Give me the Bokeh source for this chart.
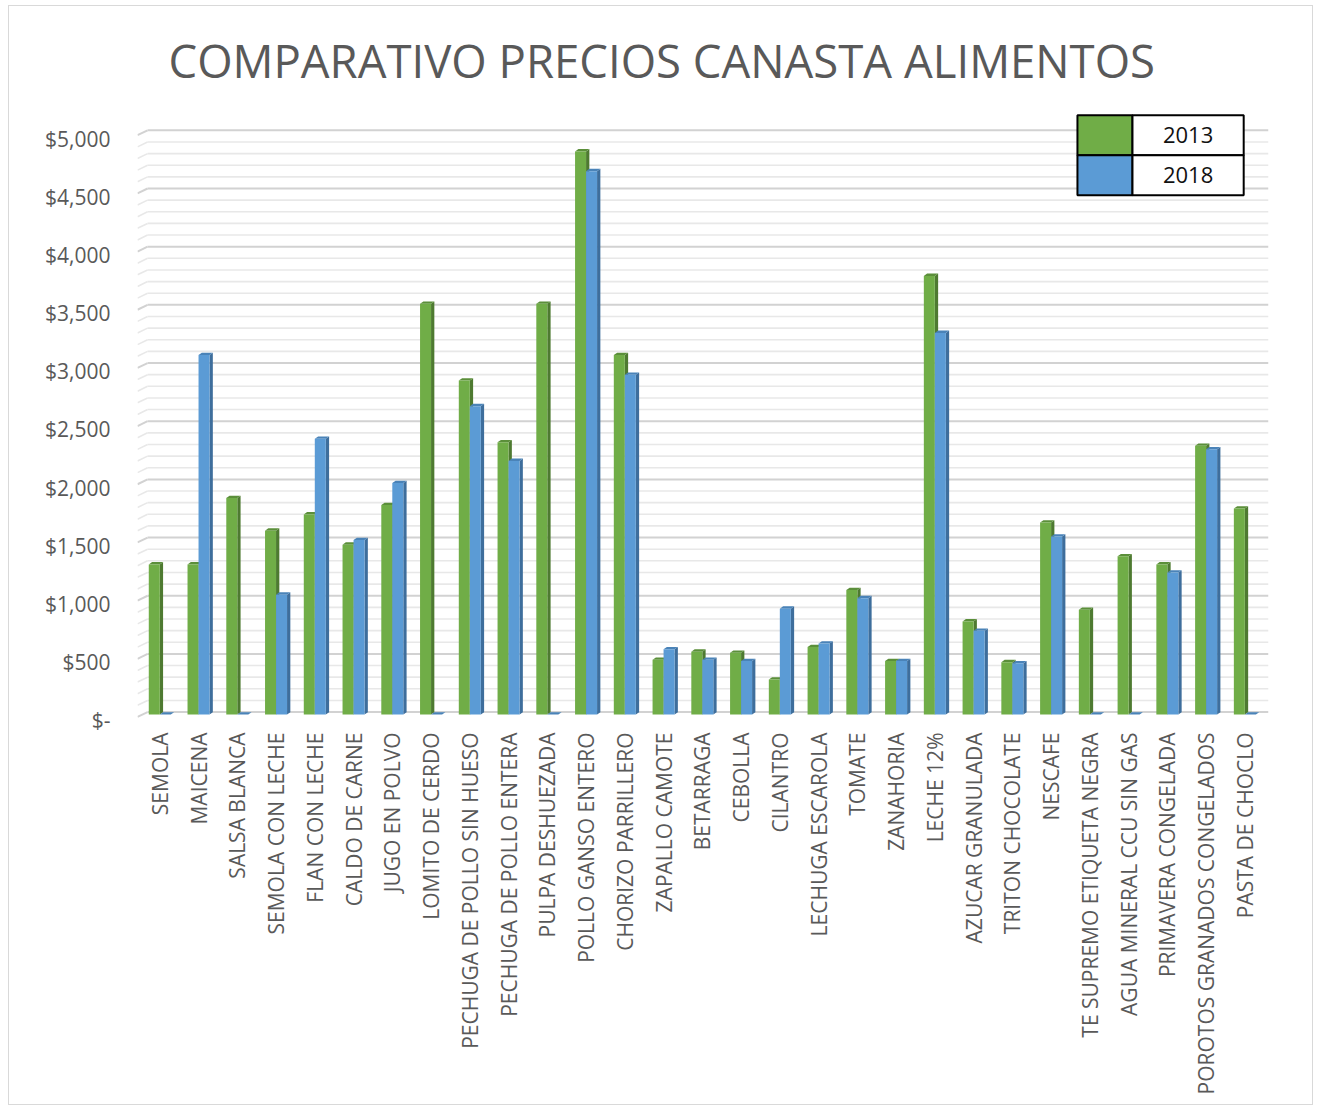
import math
from bokeh.plotting import figure
from bokeh.models import FixedTicker, Range1d
from bokeh.core.properties import value
from bokeh.embed import file_html
from bokeh.resources import INLINE

# ---------------- data ----------------
CATEGORIES = [
    "SEMOLA", "MAICENA", "SALSA BLANCA", "SEMOLA CON LECHE", "FLAN CON LECHE",
    "CALDO DE CARNE", "JUGO EN POLVO", "LOMITO DE CERDO", "PECHUGA DE POLLO SIN HUESO",
    "PECHUGA DE POLLO ENTERA", "PULPA DESHUEZADA", "POLLO GANSO ENTERO",
    "CHORIZO PARRILLERO", "ZAPALLO CAMOTE", "BETARRAGA", "CEBOLLA", "CILANTRO",
    "LECHUGA ESCAROLA", "TOMATE", "ZANAHORIA", "LECHE 12%", "AZUCAR GRANULADA",
    "TRITON CHOCOLATE", "NESCAFE", "TE SUPREMO ETIQUETA NEGRA",
    "AGUA MINERAL CCU SIN GAS", "PRIMAVERA CONGELADA", "POROTOS GRANADOS CONGELADOS",
    "PASTA DE CHOCLO",
]
VALUES_2013 = [1290, 1290, 1860, 1580, 1720, 1460, 1800, 3530, 2870, 2340, 3530, 4840,
               3090, 470, 540, 530, 300, 580, 1070, 460, 3770, 800, 450, 1650, 900,
               1360, 1290, 2310, 1770]
VALUES_2018 = [0, 3090, 0, 1030, 2370, 1500, 1990, 0, 2650, 2180, 0, 4670,
               2920, 560, 470, 460, 910, 610, 1000, 460, 3280, 720, 440, 1530, 0,
               0, 1220, 2280, 0]
SERIES = ["2013", "2018"]
Y_TICKS = [0, 500, 1000, 1500, 2000, 2500, 3000, 3500, 4000, 4500, 5000]
Y_LABELS = ["$-", "$500", "$1,000", "$1,500", "$2,000", "$2,500", "$3,000",
            "$3,500", "$4,000", "$4,500", "$5,000"]
GRID_STEP = 100

# ---------------- style ----------------
FRONT = {"2013": "#70AD47", "2018": "#5B9BD5"}
SIDE = {"2013": "#4E7A31", "2018": "#3E6E9C"}
TOP = {"2013": "#5B8F3A", "2018": "#4A83B8"}
GREY = "#595959"
FONT = "Open Sans"

X0, X1 = -0.575, 28.61
Y0, Y1 = -60, 5200
BAR_W = 0.284
DEPTH_X = 0.085      # 3D depth, x units
DEPTH_Y = 20         # 3D depth, y units
WALL_X = 0.26        # left wall depth for the grid perspective
WALL_Y = 21
LABEL_DROP = 50      # 3D front plane: value labels sit slightly below the back-wall lines

p = figure(width=1305, height=1100, output_backend="svg", toolbar_location=None,
           x_range=Range1d(X0, X1), y_range=Range1d(Y0, Y1),
           min_border_left=128, min_border_right=46, min_border_top=103,
           min_border_bottom=385)
p.outline_line_color = None
p.xgrid.visible = False
p.ygrid.visible = False
p.styles = {"margin-left": "8px", "margin-top": "5px", "border": "1px solid #d9d9d9"}

# grid lines with a small perspective kink on the left
grid_vals = list(range(0, Y_TICKS[-1] + 1, GRID_STEP))
major = [v for v in grid_vals if v % 500 == 0]
minor = [v for v in grid_vals if v % 500 != 0]
for vals, col, w in ((minor, "#e8e8e8", 1.6), (major, "#d2d2d2", 2)):
    p.segment(x0=[X0 + WALL_X] * len(vals), y0=[v + WALL_Y for v in vals],
              x1=[X1] * len(vals), y1=[v + WALL_Y for v in vals],
              line_color=col, line_width=w)
    p.segment(x0=[X0] * len(vals), y0=[v - WALL_Y for v in vals],
              x1=[X0 + WALL_X] * len(vals), y1=[v + WALL_Y for v in vals],
              line_color=col, line_width=w)

# 3D-looking bars
for k, (name, vals) in enumerate(zip(SERIES, (VALUES_2013, VALUES_2018))):
    off = (k - 0.5) * BAR_W
    xc = [i + off for i in range(len(CATEGORIES))]
    xl = [x - BAR_W / 2 for x in xc]
    xr = [x + BAR_W / 2 for x in xc]
    side_xs = [[r, r + DEPTH_X, r + DEPTH_X, r] for r in xr]
    side_ys = [[0, DEPTH_Y, v + DEPTH_Y, v] for v in vals]
    p.patches(side_xs, side_ys, fill_color=SIDE[name], line_color=None)
    top_xs = [[l, r, r + DEPTH_X, l + DEPTH_X] for l, r in zip(xl, xr)]
    top_ys = [[v, v, v + DEPTH_Y, v + DEPTH_Y] for v in vals]
    p.patches(top_xs, top_ys, fill_color=TOP[name], line_color=None)
    p.quad(left=xl, right=xr, bottom=[0] * len(vals), top=vals,
           fill_color=FRONT[name], line_color=None)

# legend as a small table (top right)
LEG_L, LEG_M, LEG_R = 23.68, 25.10, 27.97
LEG_ROWS = [(4807, 5151), (4463, 4807)]
for name, (b, t) in zip(SERIES, LEG_ROWS):
    p.quad(left=[LEG_L], right=[LEG_M], bottom=[b], top=[t],
           fill_color=FRONT[name], line_color="black", line_width=2)
    p.quad(left=[LEG_M], right=[LEG_R], bottom=[b], top=[t],
           fill_color="white", line_color="black", line_width=2)
    p.text(x=[(LEG_M + LEG_R) / 2], y=[(b + t) / 2], text=[name],
           text_font=value(FONT), text_font_size="22px", text_color="#111111",
           text_align="center", text_baseline="middle")

# axes
p.xaxis.ticker = FixedTicker(ticks=list(range(len(CATEGORIES))))
p.xaxis.major_label_overrides = {i: c for i, c in enumerate(CATEGORIES)}
p.xaxis.major_label_orientation = math.pi / 2
tick_pos = [t - LABEL_DROP for t in Y_TICKS]
p.yaxis.ticker = FixedTicker(ticks=tick_pos)
p.yaxis.major_label_overrides = {t: l for t, l in zip(tick_pos, Y_LABELS)}
for ax in (p.xaxis, p.yaxis):
    ax.axis_line_color = None
    ax.major_tick_line_color = None
    ax.minor_tick_line_color = None
    ax.major_tick_out = 0
    ax.major_label_text_font = FONT
    ax.major_label_text_font_size = "21px"
    ax.major_label_text_color = GREY
p.xaxis.major_label_standoff = 11
p.yaxis.major_label_standoff = 27

p.title.text = "COMPARATIVO PRECIOS CANASTA ALIMENTOS"
p.title.align = "left"
p.title.offset = 31
p.title.standoff = 37
p.title.text_font = FONT
p.title.text_font_style = "normal"
p.title.text_font_size = "45.5px"
p.title.text_color = GREY

open("out.html", "w").write(file_html(p, INLINE))
